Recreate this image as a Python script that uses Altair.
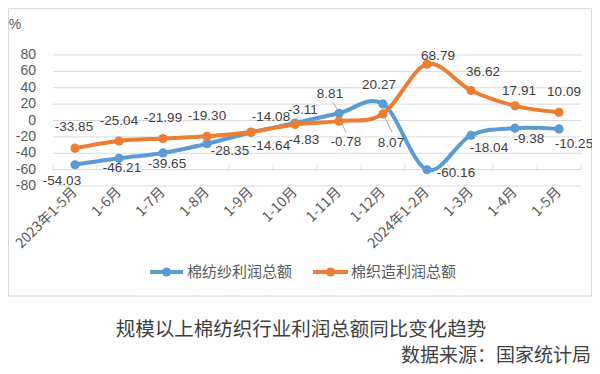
import altair as alt
import pandas as pd

# ---- data ----
categories = ["2023年1-5月", "1-6月", "1-7月", "1-8月", "1-9月", "1-10月", "1-11月",
              "1-12月", "2024年1-2月", "1-3月", "1-4月", "1-5月"]
yarn_profit = [-54.03, -46.21, -39.65, -28.35, -14.64, -3.11, 8.81, 20.27, -60.16, -18.04, -9.38, -10.25]
weave_profit = [-33.85, -25.04, -21.99, -19.30, -14.08, -4.83, -0.78, 8.07, 68.79, 36.62, 17.91, 10.09]
series_names = ["棉纺纱利润总额", "棉织造利润总额"]
y_ticks = [-80, -60, -40, -20, 0, 20, 40, 60, 80]

# label placement offsets (pixels), style only
yarn_label_offsets = [(-13, 16), (3, 10), (4, 11), (23, 7), (20, 14), (8, -13), (-9, -19),
                      (-4, -19), (29, 3), (18, 13), (14, 11), (15, 15)]
weave_label_offsets = [(-1, -21), (0, -20), (0, -21), (0, -20), (20, -15), (9, 16), (7, 21),
                       (8, 29), (11, -8), (12, -19), (4, -15), (5, -20)]
# leader lines: (series index, category index, x off, y off, x2 off, y2 off)
leaders = [(0, 6, -1, -3, -6, -11), (1, 6, 2, 1, 7, 11), (1, 7, 1, 2, 9, 18)]

colors = ["#5B9BD5", "#ED7D31"]
NUM_FONT = "Liberation Sans, sans-serif"
CJK_FONT = "Noto Sans CJK SC"

rows = []
for i, c in enumerate(categories):
    rows.append({"cat": c, "series": series_names[0], "value": yarn_profit[i], "idx": i})
    rows.append({"cat": c, "series": series_names[1], "value": weave_profit[i], "idx": i})
df = pd.DataFrame(rows)

W, H = 528, 131

xscale = alt.Scale(type="band", paddingInner=0, paddingOuter=0, domain=categories)
yscale = alt.Scale(domain=[-80, 80], nice=False)

xn = alt.X("cat:N", sort=categories, scale=xscale, axis=None)
yn = alt.Y("value:Q", scale=yscale, axis=None)
color_enc = alt.Color("series:N", scale=alt.Scale(domain=series_names, range=colors), legend=None)

one = pd.DataFrame({"a": [0]})

# outer border box
box = alt.Chart(one).mark_rect(fill=None, stroke="#D9D9D9", strokeWidth=1).encode(
    x=alt.value(-44.5), x2=alt.value(538.5), y=alt.value(-46.5), y2=alt.value(241))

# y gridlines and labels drawn through the y scale
ytick_df = pd.DataFrame({"value": y_ticks, "txt": [str(t) for t in y_ticks]})
grid = alt.Chart(ytick_df).mark_rule(color="#D9D9D9", strokeWidth=1).encode(
    y=yn, x=alt.value(0), x2=alt.value(W))
ylabels = alt.Chart(ytick_df).mark_text(fontSize=14, font=NUM_FONT, color="#595959",
                                        align="right", baseline="middle").encode(
    y=yn, x=alt.value(-17), text="txt:N")

# x category labels, rotated
cat_df = pd.DataFrame({"cat": categories})
xlabels = alt.Chart(cat_df).mark_text(fontSize=14, font=CJK_FONT, color="#595959",
                                      align="right", baseline="middle", angle=315).encode(
    x=xn, y=alt.value(H + 4), text="cat:N")

lines = alt.Chart(df).mark_line(interpolate="cardinal", strokeWidth=4).encode(
    x=xn, y=yn, color=color_enc, detail="series:N")
points = alt.Chart(df).mark_point(filled=True, size=85, opacity=1).encode(
    x=xn, y=yn, color=color_enc)

# small tick marks on the -60 line at category boundaries
tick_df = pd.DataFrame({"cat": categories, "value": [-60] * len(categories), "top": [-54] * len(categories)})
ticks_a = alt.Chart(tick_df).mark_rule(color="#D9D9D9", strokeWidth=1).encode(
    x=alt.X("cat:N", sort=categories, scale=xscale, axis=None, bandPosition=0), y=yn, y2="top:Q")
ticks_b = alt.Chart(tick_df.tail(1)).mark_rule(color="#D9D9D9", strokeWidth=1).encode(
    x=alt.X("cat:N", sort=categories, scale=xscale, axis=None, bandPosition=1), y=yn, y2="top:Q")

all_vals = [yarn_profit, weave_profit]
leader_layers = []
for s, i, ox, oy, ox2, oy2 in leaders:
    d = pd.DataFrame({"cat": [categories[i]], "value": [all_vals[s][i]]})
    leader_layers.append(
        alt.Chart(d).mark_rule(color="#A6A6A6", strokeWidth=1, xOffset=ox, yOffset=oy,
                               x2Offset=ox2, y2Offset=oy2).encode(
            x=xn, x2=alt.X2("cat:N"), y=yn, y2=alt.Y2("value:Q")))

label_layers = []
for s, vals, offs in [(series_names[0], yarn_profit, yarn_label_offsets),
                      (series_names[1], weave_profit, weave_label_offsets)]:
    for i, v in enumerate(vals):
        d = pd.DataFrame({"cat": [categories[i]], "value": [v], "txt": [f"{v:.2f}"]})
        label_layers.append(
            alt.Chart(d).mark_text(dx=offs[i][0], dy=offs[i][1], fontSize=13.5, font=NUM_FONT,
                                   color="#404040", align="center", baseline="middle").encode(
                x=xn, y=yn, text="txt:N"))

pct = alt.Chart(one).mark_text(text="%", fontSize=14, font=NUM_FONT, color="#595959",
                               align="center", baseline="middle").encode(
    x=alt.value(-38), y=alt.value(-30))

# manual legend
leg_df = pd.DataFrame({"series": series_names, "x0": [97, 260], "x1": [130, 295],
                       "xm": [113.5, 277.5], "xt": [134, 298]})
leg_line = alt.Chart(leg_df).mark_rule(strokeWidth=4).encode(
    x=alt.X("x0:Q", scale=None), x2="x1:Q", y=alt.value(217), color=color_enc)
leg_pt = alt.Chart(leg_df).mark_point(filled=True, size=85, opacity=1).encode(
    x=alt.X("xm:Q", scale=None), y=alt.value(217), color=color_enc)
leg_txt = alt.Chart(leg_df).mark_text(fontSize=15, font=CJK_FONT, color="#595959",
                                      align="left", baseline="middle").encode(
    x=alt.X("xt:Q", scale=None), y=alt.value(217), text="series:N")

title = alt.Chart(one).mark_text(text="规模以上棉纺织行业利润总额同比变化趋势", fontSize=19.5,
                                 font=CJK_FONT, color="#404040", align="center",
                                 baseline="middle").encode(x=alt.value(248), y=alt.value(275))
source = alt.Chart(one).mark_text(text="数据来源：国家统计局", fontSize=19, font=CJK_FONT,
                                  color="#404040", align="right", baseline="middle").encode(
    x=alt.value(538), y=alt.value(301))

chart = alt.layer(box, grid, ylabels, xlabels, ticks_a, ticks_b, lines, points, *leader_layers,
                  *label_layers, pct, leg_line, leg_pt, leg_txt, title, source).resolve_scale(
    x="shared", y="shared").properties(
    width=W, height=H,
    autosize=alt.AutoSizeParams(type="none"),
    padding={"left": 45, "top": 47, "right": 11, "bottom": 180},
    background="white",
).configure_view(stroke=None)

chart.save("out.html", embed_options={"renderer": "svg", "actions": False})
